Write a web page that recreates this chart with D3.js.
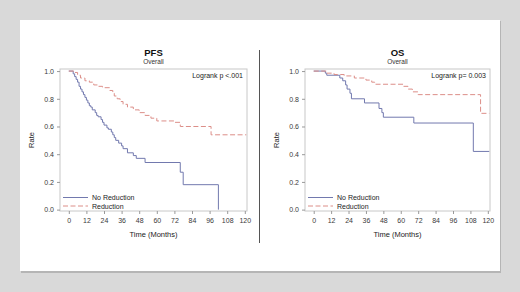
<!DOCTYPE html>
<html>
<head>
<meta charset="utf-8">
<script src="https://cdn.jsdelivr.net/npm/d3@7"></script>
<style>
  body { margin: 0; background: #d9d9d9; }
  svg { display: block; font-family: "Liberation Sans", Arial, sans-serif; }
</style>
</head>
<body>
<div id="chart"></div>
<script>
// data: [month, rate]
let pfsNoReduction = [[0,1],[3,0.98],[4,0.96],[5,0.94],[6,0.92],[7,0.89],[8,0.87],[9,0.85],[10,0.83],[11,0.81],[12,0.79],[13,0.77],[14,0.75],[15,0.74],[16,0.72],[18,0.70],[19,0.68],[20,0.67],[22,0.65],[23,0.63],[24,0.61],[26,0.59],[27,0.58],[29,0.56],[30,0.54],[31,0.52],[32,0.50],[34,0.48],[36,0.46],[37,0.44],[40,0.41],[44,0.39],[46,0.37],[52,0.34],[76,0.27],[78,0.18],[102,0.0]];
let pfsReduction = [[0,1],[4,0.99],[6,0.97],[8,0.95],[11,0.93],[14,0.92],[17,0.90],[20,0.89],[23,0.88],[28,0.86],[30,0.84],[31,0.82],[33,0.80],[35,0.78],[37,0.76],[40,0.74],[44,0.72],[48,0.70],[52,0.68],[56,0.66],[60,0.64],[72,0.63],[76,0.60],[97,0.54],[121,0.54]];
let osNoReduction = [[0,1],[8,0.985],[9,0.97],[18,0.95],[20,0.93],[22,0.90],[23,0.87],[25,0.84],[26,0.80],[35,0.77],[45,0.73],[47,0.70],[48,0.667],[69,0.625],[110,0.42],[121,0.42]];
let osReduction = [[0,1],[9,0.985],[14,0.975],[21,0.965],[28,0.95],[36,0.935],[40,0.92],[42,0.905],[62,0.89],[65,0.87],[68,0.85],[72,0.83],[115,0.695],[121,0.695]];

let xTicks = [0,12,24,36,48,60,72,84,96,108,120];
let yTicks = [0,0.2,0.4,0.6,0.8,1.0];
let legendLabels = ["No Reduction","Reduction"];

let width = 520, height = 292;
let blue = "#7279ae", red = "#dc8e88";

let svg = d3.select("#chart").append("svg")
    .attr("width", width)
    .attr("height", height);

svg.append("rect").attr("width", width).attr("height", height).attr("fill", "#d9d9d9");
// shadow + white panel
svg.append("rect").attr("x", 21).attr("y", 21).attr("width", 480).attr("height", 252).attr("fill", "#b5b5b5");
svg.append("rect").attr("x", 20).attr("y", 20).attr("width", 480).attr("height", 251).attr("fill", "#fff");

// divider
svg.append("line").attr("x1", 259.5).attr("x2", 259.5).attr("y1", 50).attr("y2", 243)
    .attr("stroke", "#555").attr("stroke-width", 1);

function drawPanel(cfg){
    let x = d3.scaleLinear().domain([-6, 121.5]).range([cfg.left, cfg.right]);
    let y = d3.scaleLinear().domain([-0.01, 1.015]).range([211, 69]);
    let g = svg.append("g");

    g.append("rect")
        .attr("x", cfg.left).attr("y", 69)
        .attr("width", cfg.right - cfg.left).attr("height", 142)
        .attr("fill", "none").attr("stroke", "#c8c8c8").attr("stroke-width", 1);

    let xAxis = d3.axisBottom(x).tickValues(xTicks).tickSize(3).tickPadding(4).tickFormat(d3.format("d"));
    let xg = g.append("g").attr("transform", "translate(0,211)").call(xAxis);
    let yAxis = d3.axisLeft(y).tickValues(yTicks).tickSize(3).tickPadding(3).tickFormat(d3.format(".1f"));
    let yg = g.append("g").attr("transform", "translate(" + cfg.left + ",0)").call(yAxis);
    [xg, yg].forEach(a => {
        a.select(".domain").remove();
        a.selectAll("line").attr("stroke", "#999");
        a.selectAll("text").attr("fill", "#3a3a3a").style("font-size", "7px").style("font-family", "Liberation Sans, Arial, sans-serif");
    });

    let line = d3.line().x(d => x(d[0])).y(d => y(d[1])).curve(d3.curveStepAfter);

    g.append("path").datum(cfg.noRed).attr("d", line)
        .attr("fill", "none").attr("stroke", blue).attr("stroke-width", 1);
    g.append("path").datum(cfg.red).attr("d", line)
        .attr("fill", "none").attr("stroke", red).attr("stroke-width", 1)
        .attr("stroke-dasharray", "5,2.5");

    // titles
    let cx = (cfg.left + cfg.right) / 2;
    g.append("text").attr("x", cx).attr("y", 56).attr("text-anchor", "middle")
        .style("font-size", "9.5px").style("font-weight", "bold").attr("fill", "#111").text(cfg.title);
    g.append("text").attr("x", cx).attr("y", 64).attr("text-anchor", "middle")
        .style("font-size", "6.5px").attr("fill", "#333").text("Overall");

    g.append("text").attr("x", cfg.right - 4).attr("y", 78).attr("text-anchor", "end")
        .style("font-size", "7px").attr("fill", "#222").text(cfg.pval);

    g.append("text").attr("x", cx).attr("y", 237).attr("text-anchor", "middle")
        .style("font-size", "7.5px").attr("fill", "#222").text("Time (Months)");
    g.append("text")
        .attr("transform", "translate(" + (cfg.left - 26) + ",140) rotate(-90)")
        .attr("text-anchor", "middle")
        .style("font-size", "7.5px").attr("fill", "#222").text("Rate");

    // legend
    let lx = cfg.left + 3;
    legendLabels.forEach((lab, i) => {
        let ly = 197.5 + i * 8.5;
        g.append("line").attr("x1", lx).attr("x2", lx + 25).attr("y1", ly).attr("y2", ly)
            .attr("stroke", i === 0 ? blue : red).attr("stroke-width", 1)
            .attr("stroke-dasharray", i === 0 ? null : "5,2.5");
        g.append("text").attr("x", lx + 29).attr("y", ly + 2.5)
            .style("font-size", "7px").attr("fill", "#222").text(lab);
    });
}

drawPanel({left: 60, right: 247, title: "PFS", pval: "Logrank p  <.001", noRed: pfsNoReduction, red: pfsReduction});
drawPanel({left: 305, right: 490, title: "OS", pval: "Logrank p= 0.003", noRed: osNoReduction, red: osReduction});
</script>
</body>
</html>
